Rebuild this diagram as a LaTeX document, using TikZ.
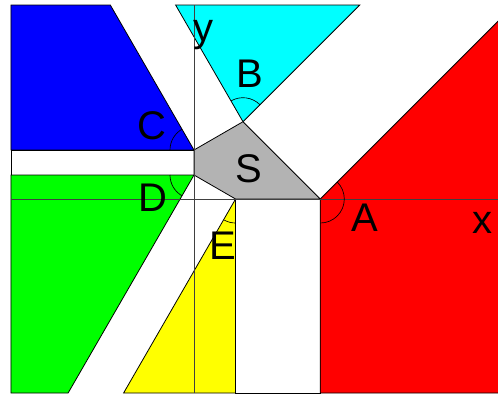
\documentclass[tikz,border=0pt]{standalone}
\usepackage{fontspec}
\setmainfont{Liberation Sans}
\usetikzlibrary{calc}
\definecolor{cGray}{RGB}{179,179,179}
\definecolor{cBlue}{RGB}{0,0,255}
\definecolor{cCyan}{RGB}{0,255,255}
\definecolor{cGreen}{RGB}{0,255,0}
\definecolor{cYellow}{RGB}{255,255,0}
\definecolor{cRed}{RGB}{255,0,0}
\tikzset{
	region/.style={draw=black, line width=0.6pt},
	angarc/.style={draw=black, line width=0.5pt},
	axisline/.style={draw=black!75, line width=0.6pt},
	lbl/.style={font=\fontsize{30}{36}\selectfont, inner sep=0pt},
}

\begin{document}
\begin{tikzpicture}[x=0.75pt, y=0.75pt]
	\useasboundingbox (-194,-195) rectangle (304,199);
	\clip (-194,-195) rectangle (304,199);
	% corners of the pentagon S
	\coordinate (O) at (0,0);
	\coordinate (D) at (0,24);
	\coordinate (C) at (0,49);
	\coordinate (B) at (49,77.3);
	\coordinate (A) at (126.3,0);
	\coordinate (E) at (41.57,0);
	% regions
	\draw[region, fill=cBlue] (-183,194) -- (-83.7,194) -- (C) -- (-183,49) -- cycle;
	\draw[region, fill=white] (-183,49) -- (C) -- (D) -- (-183,24) -- cycle;
	\draw[region, fill=cGreen] (-183,24) -- (D) -- (-125.9,-194) -- (-183,-194) -- cycle;
	\draw[region, fill=cCyan] (-18.4,194) -- (B) -- (165.7,194) -- cycle;
	\draw[region, fill=cYellow] (E) -- (41.57,-194) -- (-70.4,-194) -- cycle;
	\draw[region, fill=white] (E) -- (A) -- (126.3,-194) -- (41.57,-194) -- cycle;
	\draw[region, fill=cRed] (A) -- (320,193.7) -- (320,-194) -- (126.3,-194) -- cycle;
	\draw[region, fill=cGray] (C) -- (B) -- (A) -- (E) -- (D) -- cycle;
	% axes
	\draw[axisline] (-183,0) -- (310,0);
	\draw[axisline] (0,-194) -- (0,194);
	% angle arcs
	\draw[angarc] (A) ++(45:24) arc[start angle=45, end angle=-90, radius=24];
	\draw[angarc] (B) ++(45:24) arc[start angle=45, end angle=120, radius=24];
	\draw[angarc] (C) ++(120:24) arc[start angle=120, end angle=180, radius=24];
	\draw[angarc] (D) ++(180:24) arc[start angle=180, end angle=240, radius=24];
	\draw[angarc] (E) ++(240:24) arc[start angle=240, end angle=270, radius=24];
	% labels
	\node[lbl] (ylbl) at (9,164) {y};
	\node[lbl] (xlbl) at (288,-24) {x};
	\node[lbl] (Albl) at (171,-19) {A};
	\node[lbl] (Blbl) at (56,125) {B};
	\node[lbl] (Clbl) at (-42,73) {C};
	\node[lbl] (Dlbl) at (-41,1) {D};
	\node[lbl] (Elbl) at (29,-47) {E};
	\node[lbl] (Slbl) at (55,30) {S};
\end{tikzpicture}
\end{document}
